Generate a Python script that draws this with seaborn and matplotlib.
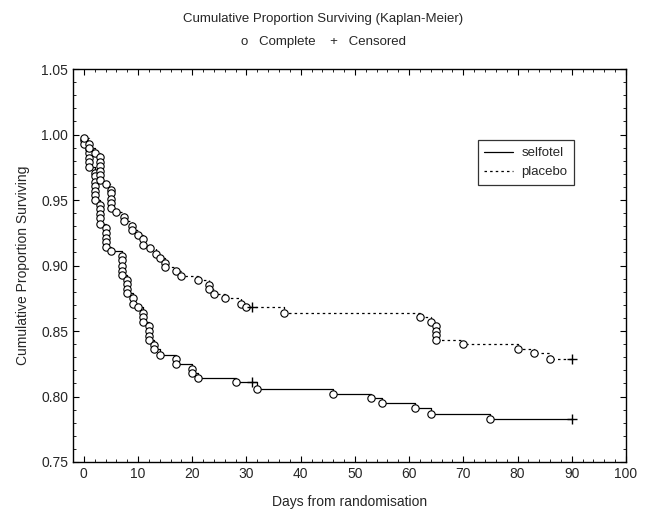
import numpy as np
import pandas as pd
import matplotlib
matplotlib.use("Agg")
import matplotlib.pyplot as plt
import seaborn as sns
from matplotlib.ticker import MultipleLocator, FormatStrFormatter

# Kaplan-Meier curves: one entry per death (circle)
selfotel_days = [0, 0,
                 1, 1, 1, 1, 1,
                 2, 2, 2, 2, 2, 2, 2,
                 3, 3, 3, 3, 3,
                 4, 4, 4, 4, 4,
                 5,
                 7, 7, 7, 7, 7,
                 8, 8, 8, 8,
                 9, 9,
                 10,
                 11, 11, 11,
                 12, 12, 12, 12,
                 13, 13,
                 14,
                 17, 17,
                 20, 20,
                 21,
                 28,
                 32, 46, 53, 55, 61, 64, 75]
selfotel_surv = [0.996, 0.993,
                 0.989, 0.986, 0.982, 0.979, 0.975,
                 0.971, 0.968, 0.964, 0.961, 0.957, 0.954, 0.950,
                 0.946, 0.943, 0.939, 0.936, 0.932,
                 0.929, 0.925, 0.921, 0.918, 0.914,
                 0.911,
                 0.907, 0.904, 0.900, 0.896, 0.893,
                 0.889, 0.886, 0.882, 0.879,
                 0.875, 0.871,
                 0.868,
                 0.864, 0.861, 0.857,
                 0.854, 0.850, 0.846, 0.843,
                 0.839, 0.836,
                 0.832,
                 0.829, 0.825,
                 0.821, 0.818,
                 0.814,
                 0.811,
                 0.806, 0.802, 0.799, 0.795, 0.791, 0.787, 0.783]
selfotel_cens_days = [31, 90]
selfotel_cens_surv = [0.811, 0.783]

placebo_days = [0, 1, 1, 2,
                3, 3, 3, 3, 3, 3,
                4,
                5, 5, 5, 5, 5,
                6,
                7.5, 7.5,
                8.8, 8.8,
                10,
                11, 11,
                12.2, 13.4, 14,
                15, 15,
                17, 18, 21,
                23, 23,
                24, 26, 29, 30, 37,
                62, 64,
                65, 65, 65, 65,
                70, 80, 83, 86]
placebo_surv = [0.997, 0.993, 0.990, 0.986,
                0.983, 0.979, 0.976, 0.972, 0.969, 0.965,
                0.962,
                0.958, 0.955, 0.951, 0.948, 0.944,
                0.941,
                0.937, 0.934,
                0.930, 0.927,
                0.923,
                0.920, 0.916,
                0.913, 0.909, 0.906,
                0.902, 0.899,
                0.896, 0.892, 0.889,
                0.885, 0.882,
                0.878, 0.875, 0.871, 0.868, 0.864,
                0.861, 0.857,
                0.854, 0.850, 0.847, 0.843,
                0.840, 0.836, 0.833, 0.829]
placebo_cens_days = [31, 90]
placebo_cens_surv = [0.868, 0.829]

x_ticks = [0, 10, 20, 30, 40, 50, 60, 70, 80, 90, 100]
y_ticks = [0.75, 0.80, 0.85, 0.90, 0.95, 1.00, 1.05]

sns.set_style("ticks")
plt.rcParams['font.family'] = ['Liberation Sans', 'DejaVu Sans']

fig = plt.figure(figsize=(6.47, 5.11), dpi=100)
ax = fig.add_axes([0.1128, 0.0959, 0.8547, 0.769])


def curve_frame(days, surv, end_day):
    # step curve starts at 1.0 on day 0 and runs to the last follow-up day
    return pd.DataFrame({"day": [0] + days + [end_day],
                         "surv": [1.0] + surv + [surv[-1]]})


arms = [
    ("selfotel", selfotel_days, selfotel_surv, selfotel_cens_days, selfotel_cens_surv, "-"),
    ("placebo", placebo_days, placebo_surv, placebo_cens_days, placebo_cens_surv, (0, (2, 2.5))),
]

handles = []
for name, days, surv, cdays, csurv, ls in arms:
    df = curve_frame(days, surv, cdays[-1])
    sns.lineplot(data=df, x="day", y="surv", estimator=None, sort=False,
                 drawstyle="steps-post", color="black", linewidth=0.9,
                 linestyle=ls, ax=ax, label=name, legend=False)
    handles.append(ax.lines[-1])
    sns.scatterplot(x=days, y=surv, marker="o", s=28, facecolor="white",
                    edgecolor="black", linewidth=0.8, ax=ax, legend=False, zorder=3)
    ax.plot(cdays, csurv, linestyle="none", marker="+", markersize=7,
            markeredgewidth=1.0, color="black", zorder=4)

ax.set_xlim(-2, 100)
ax.set_ylim(0.75, 1.05)
ax.set_xticks(x_ticks)
ax.set_yticks(y_ticks)
ax.yaxis.set_major_formatter(FormatStrFormatter("%.2f"))
ax.xaxis.set_minor_locator(MultipleLocator(2))
ax.yaxis.set_minor_locator(MultipleLocator(0.01))
ax.tick_params(which="both", direction="in", top=True, right=True, labelsize=10,
               color="black")
ax.tick_params(which="major", length=4, width=0.8)
ax.tick_params(which="minor", length=2, width=0.6)
for sp in ax.spines.values():
    sp.set_visible(True)
    sp.set_color("black")
    sp.set_linewidth(1.0)

ax.set_xlabel("Days from randomisation", fontsize=10, labelpad=10)
ax.set_ylabel("Cumulative Proportion Surviving", fontsize=10, labelpad=8)

leg = ax.legend(handles=handles, labels=["selfotel", "placebo"],
                loc="upper left", bbox_to_anchor=(0.72, 0.835),
                frameon=True, fancybox=False, fontsize=9.5, handlelength=2.2,
                handletextpad=0.6, borderpad=0.5, labelspacing=0.5)
leg.get_frame().set_edgecolor("black")
leg.get_frame().set_linewidth(0.9)

fig.text(0.5, 0.963, "Cumulative Proportion Surviving (Kaplan-Meier)",
         ha="center", va="center", fontsize=9.5)
fig.text(0.5, 0.918, "o   Complete    +   Censored",
         ha="center", va="center", fontsize=9.5)

fig.savefig("out.png", dpi=100)
